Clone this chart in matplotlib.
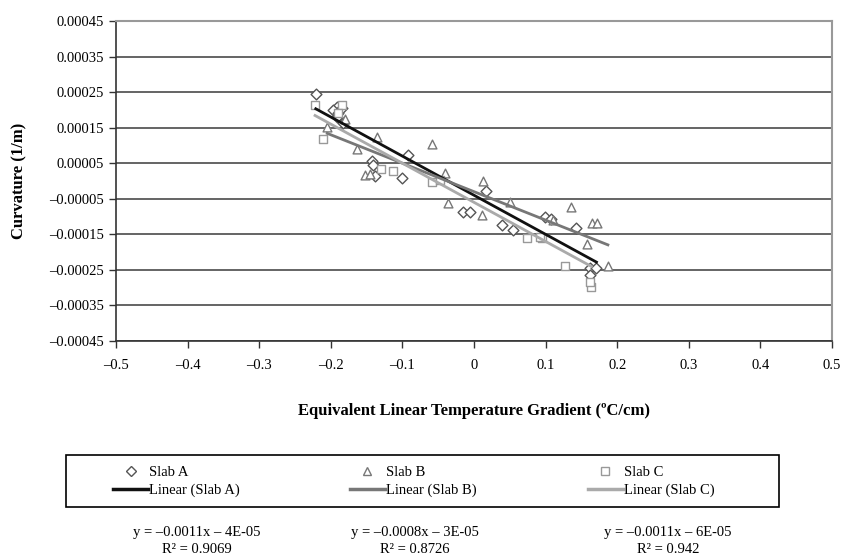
import numpy as np
import matplotlib
matplotlib.use("Agg")
import matplotlib.pyplot as plt
from matplotlib.ticker import FuncFormatter
from matplotlib.lines import Line2D
from matplotlib.patches import Rectangle

plt.rcParams['font.family'] = ['Liberation Serif', 'DejaVu Serif']

# Slab A (diamonds)
slab_a_x = [-0.221, -0.192, -0.197, -0.190, -0.192, -0.183, -0.185, -0.092, -0.143, -0.141,
            -0.138, -0.101, -0.015, -0.006, 0.017, 0.039, 0.055, 0.099, 0.108, 0.143,
            0.162, 0.171, 0.162]
slab_a_y = [0.000245, 0.000209, 0.000200, 0.000190, 0.000180, 0.000164, 0.000205, 0.000073, 0.000057, 0.000045,
            0.000014, 0.000008, -0.000086, -0.000086, -0.000027, -0.000124, -0.000138, -0.000100, -0.000108, -0.000133,
            -0.000245, -0.000245, -0.000264]

# Slab B (triangles)
slab_b_x = [-0.205, -0.136, -0.164, -0.059, -0.152, -0.145, -0.040, -0.036, 0.012, 0.011,
            0.050, 0.136, 0.110, 0.158, 0.165, 0.172, 0.187, -0.180]
slab_b_y = [0.000152, 0.000125, 0.000090, 0.000104, 0.000017, 0.000020, 0.000023, -0.000061, 0.000000, -0.000096,
            -0.000058, -0.000072, -0.000110, -0.000178, -0.000118, -0.000118, -0.000238, 0.000175]

# Slab C (squares)
slab_c_x = [-0.222, -0.185, -0.211, -0.130, -0.113, -0.059, -0.047, 0.074, 0.095, 0.092,
            0.127, 0.164, 0.162, -0.190]
slab_c_y = [0.000214, 0.000214, 0.000118, 0.000034, 0.000029, -0.000002, 0.000003, -0.000161, -0.000161, -0.000157,
            -0.000240, -0.000297, -0.000285, 0.000190]

# trend line coefficients as printed
slopes = [-0.0011, -0.0008, -0.0011]
intercepts = [-4e-05, -3e-05, -6e-05]
equations = ["y = \u20130.0011x \u2013 4E-05\nR\u00b2 = 0.9069",
             "y = \u20130.0008x \u2013 3E-05\nR\u00b2 = 0.8726",
             "y = \u20130.0011x \u2013 6E-05\nR\u00b2 = 0.942"]

fig = plt.figure(figsize=(8.45, 5.6), dpi=100)
ax = fig.add_axes([116 / 845, 1 - 341 / 560, 716 / 845, 320 / 560])

ax.set_xlim(-0.5, 0.5)
ax.set_ylim(-0.00045, 0.00045)
ax.set_xticks(np.arange(-0.5, 0.51, 0.1))
ax.set_yticks(np.arange(-0.00045, 0.00046, 0.0001))

ax.yaxis.grid(True, color='#3a3a3a', lw=1.1)
ax.set_axisbelow(True)

def fmt_y(v, pos):
    return f"{v:.5f}".replace('-', '\u2013')

def fmt_x(v, pos):
    if abs(v) < 1e-9:
        return "0"
    return f"{v:.1f}".replace('-', '\u2013')

ax.yaxis.set_major_formatter(FuncFormatter(fmt_y))
ax.xaxis.set_major_formatter(FuncFormatter(fmt_x))
ax.tick_params(axis='both', direction='out', length=5, width=1, labelsize=10.5, color='#333333')
ax.tick_params(axis='x', pad=8)

for side in ['left', 'bottom']:
    ax.spines[side].set_color('#333333')
    ax.spines[side].set_linewidth(1.2)
for side in ['top', 'right']:
    ax.spines[side].set_color('#999999')
    ax.spines[side].set_linewidth(1.5)

ax.scatter(slab_a_x, slab_a_y, marker='D', s=30, facecolors='white', edgecolors='#555555', linewidths=1, zorder=3)
ax.scatter(slab_b_x, slab_b_y, marker='^', s=40, facecolors='white', edgecolors='#777777', linewidths=1, zorder=3)
ax.scatter(slab_c_x, slab_c_y, marker='s', s=34, facecolors='white', edgecolors='#999999', linewidths=1, zorder=3)

line_colors = ['#111111', '#777777', '#aaaaaa']
all_x = [slab_a_x, slab_b_x, slab_c_x]
for xs, m, b, c in zip(all_x, slopes, intercepts, line_colors):
    xx = np.array([min(xs), max(xs)])
    ax.plot(xx, m * xx + b, color=c, lw=2, zorder=4)

ax.set_xlabel("Equivalent Linear Temperature Gradient (\u00baC/cm)", fontsize=12, fontweight='bold', labelpad=22)
ax.set_ylabel("Curvature (1/m)", fontsize=12, fontweight='bold', labelpad=16)

# legend: three columns inside one framed box
markers = [('D', 5, '#555555'), ('^', 6, '#777777'), ('s', 5.5, '#999999')]
names = ["Slab A", "Slab B", "Slab C"]
col_x = [113, 350, 588]
for (mk, ms, mc), lc, name, cx in zip(markers, line_colors, names, col_x):
    hs = [Line2D([], [], ls='none', marker=mk, ms=ms, mfc='white', mec=mc),
          Line2D([], [], color=lc, lw=2.5)]
    fig.legend(hs, [name, f"Linear ({name})"], loc='upper left',
               bbox_to_anchor=(cx / 845, 1 - 466 / 560), bbox_transform=fig.transFigure,
               fontsize=10.5, frameon=False, borderpad=0, borderaxespad=0,
               handlelength=2.4, handletextpad=0.1, labelspacing=0.3)
fig.add_artist(Rectangle((66 / 845, 1 - 507 / 560), 713 / 845, 52 / 560,
                         transform=fig.transFigure, fill=False, ec='black', lw=1.2))

for cx, txt in zip([197, 415, 668], equations):
    fig.text(cx / 845, 1 - 541 / 560, txt, ha='center', va='center', fontsize=10.5, linespacing=1.35)

fig.savefig("out.png", dpi=100)
